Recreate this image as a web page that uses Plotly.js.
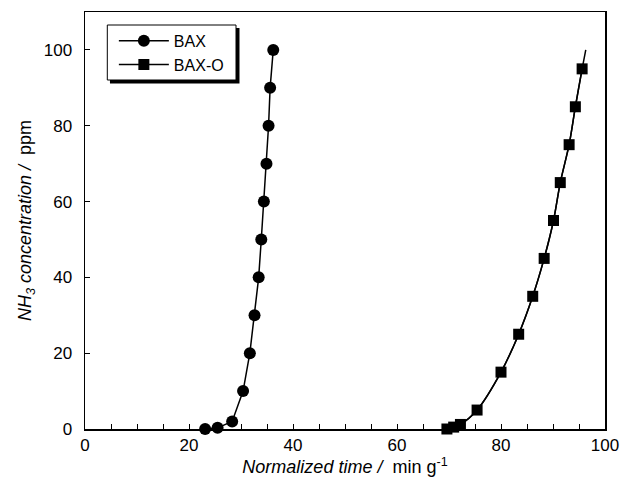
<!DOCTYPE html>
<html>
<head>
<meta charset="utf-8">
<script src="https://cdn.plot.ly/plotly-3.0.1.min.js"></script>
<style>html,body{margin:0;padding:0;background:#fff;}#chart{width:624px;height:488px;}</style>
</head>
<body>
<div id="chart"></div>
<script>
// BAX (circles)
var baxTime = [23.1, 25.5, 28.3, 30.4, 31.7, 32.6, 33.4, 33.9, 34.4, 34.9, 35.3, 35.6, 36.2];
var baxConc = [0, 0.3, 2, 10, 20, 30, 40, 50, 60, 70, 80, 90, 100];
// BAX-O (squares)
var baxoTime = [69.6, 70.9, 72.2, 75.4, 80.0, 83.4, 86.1, 88.3, 90.1, 91.4, 93.1, 94.3, 95.6];
var baxoConc = [0, 0.5, 1.2, 5, 15, 25, 35, 45, 55, 65, 75, 85, 95];
// fitted curve end for BAX-O
var baxoFitEndTime = [96.3];
var baxoFitEndConc = [100];

var xTicks = [0, 20, 40, 60, 80, 100];
var yTicks = [0, 20, 40, 60, 80, 100];

var FONT = 'Liberation Sans, Arial, sans-serif';

var traces = [
  {
    x: baxoTime.concat(baxoFitEndTime), y: baxoConc.concat(baxoFitEndConc),
    mode: 'lines', line: {color: '#000', width: 1.5, shape: 'spline', smoothing: 0.8},
    showlegend: false, hoverinfo: 'skip', cliponaxis: false
  },
  {
    x: baxTime, y: baxConc, name: 'BAX', mode: 'lines+markers',
    line: {color: '#000', width: 1.5},
    marker: {symbol: 'circle', size: 12, color: '#000'},
    cliponaxis: false
  },
  {
    x: baxoTime, y: baxoConc, name: 'BAX-O', mode: 'lines+markers',
    line: {color: '#000', width: 1.5, shape: 'spline', smoothing: 0.8},
    marker: {symbol: 'square', size: 11, color: '#000'},
    cliponaxis: false
  }
];

var layout = {
  width: 624, height: 488,
  margin: {l: 85, r: 19, t: 12, b: 59},
  paper_bgcolor: '#fff', plot_bgcolor: '#fff',
  font: {family: FONT, color: '#000', size: 17},
  showlegend: true,
  legend: {
    x: 0.0555, y: 0.9718, xanchor: 'left', yanchor: 'top',
    bgcolor: 'rgba(0,0,0,0)', borderwidth: 0,
    itemwidth: 50,
    font: {family: FONT, size: 16, color: '#000'},
    tracegroupgap: 0
  },
  shapes: [
    {type: 'rect', xref: 'paper', yref: 'paper', x0: 0.048, x1: 0.2971, y0: 0.8285, y1: 0.9616,
     fillcolor: '#000', line: {width: 0}, layer: 'above'},
    {type: 'rect', xref: 'paper', yref: 'paper', x0: 0.0429, x1: 0.2904, y0: 0.8369, y1: 0.9688,
     fillcolor: '#fff', line: {color: '#000', width: 1}, layer: 'above'}
  ],
  xaxis: {
    range: [0, 100], tickvals: xTicks, ticktext: xTicks.map(String),
    ticks: 'inside', ticklen: 5, tickwidth: 1, tickcolor: '#000',
    minor: {dtick: 5, tick0: 0, ticks: 'inside', ticklen: 5, tickwidth: 1, tickcolor: '#000'},
    showline: true, linecolor: '#000', linewidth: 1.5, mirror: true,
    showgrid: false, zeroline: false,
    tickfont: {family: FONT, size: 17, color: '#000'},
    title: {text: '<i>Normalized time / </i> min g<sup>-1</sup>', font: {family: FONT, size: 18, color: '#000'}, standoff: 6}
  },
  yaxis: {
    range: [0, 110], tickvals: yTicks, ticktext: yTicks.map(String),
    ticks: 'inside', ticklen: 5, tickwidth: 1, tickcolor: '#000',
    showline: true, linecolor: '#000', linewidth: 1.5, mirror: true,
    showgrid: false, zeroline: false,
    tickfont: {family: FONT, size: 17, color: '#000'},
    ticklabelstandoff: 8,
    title: {text: '<i>NH<sub>3</sub> concentration / </i> ppm', font: {family: FONT, size: 18, color: '#000'}, standoff: 7}
  }
};

Plotly.newPlot('chart', traces, layout, {displayModeBar: false, staticPlot: true});
</script>
</body>
</html>
